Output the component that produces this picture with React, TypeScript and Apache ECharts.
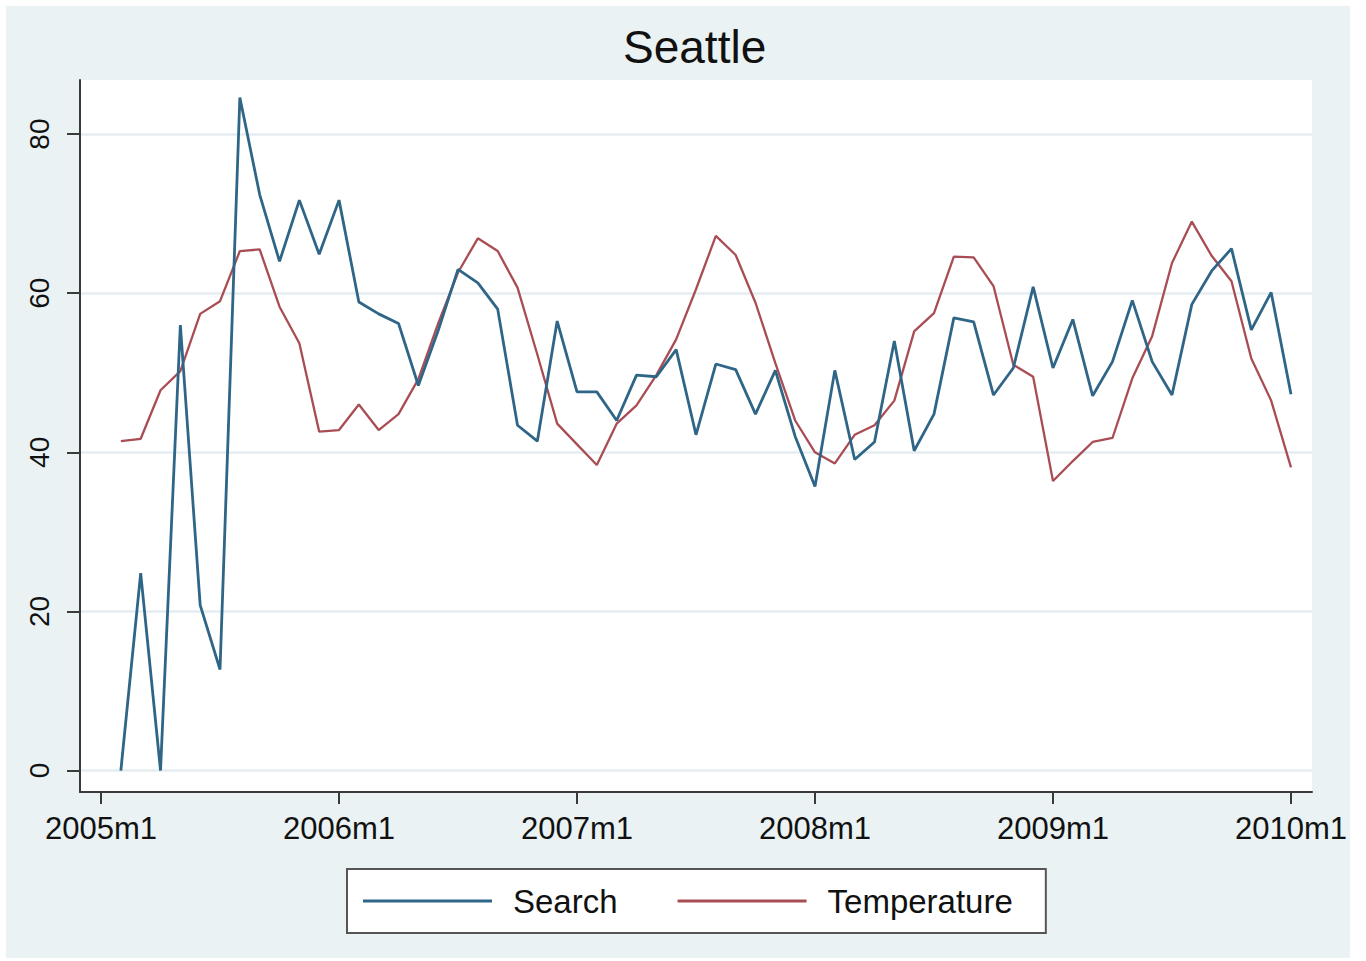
import React, { useEffect, useRef } from "react";
import * as echarts from "echarts";

// Months since 2005m1 for each observation (2005m2 .. 2010m1)
const searchValues = [
  0, 24.8, 0, 56, 20.8, 12.7, 84.6, 72.4, 64, 71.7, 64.9, 71.7,
  58.9, 57.4, 56.2, 48.4, 55.3, 63, 61.3, 58, 43.4, 41.4, 56.5, 47.6,
  47.6, 44, 49.7, 49.5, 52.9, 42.2, 51.1, 50.4, 44.8, 50.3, 42, 35.7,
  50.3, 39.1, 41.3, 54, 40.2, 44.8, 56.9, 56.4, 47.2, 50.6, 60.8, 50.6,
  56.7, 47.1, 51.4, 59.1, 51.4, 47.2, 58.6, 62.8, 65.6, 55.4, 60.1, 47.3,
];
const temperatureValues = [
  41.4, 41.7, 47.8, 50.2, 57.4, 59, 65.3, 65.5, 58.3, 53.7, 42.6, 42.8,
  46, 42.8, 44.8, 49.2, 56.2, 62.6, 66.9, 65.3, 60.7, 52.3, 43.6, 41,
  38.4, 43.6, 45.9, 49.7, 54.2, 60.5, 67.2, 64.8, 58.8, 51.2, 44, 40,
  38.6, 42.2, 43.4, 46.5, 55.2, 57.5, 64.6, 64.5, 60.9, 51, 49.5, 36.4,
  38.9, 41.3, 41.8, 49.3, 54.6, 63.8, 69, 64.7, 61.5, 51.8, 46.5, 38.1,
];
const monthOffsets = searchValues.map((_, i) => i + 1);
const xTickValues = [0, 12, 24, 36, 48, 60];
const startYear = 2005;
const yTickValues = [0, 20, 40, 60, 80];
const seriesNames = ["Search", "Temperature"];
const titleText = "Seattle";

const FONT = "'Liberation Sans', Arial, Helvetica, sans-serif";

export default function App() {
  const ref = useRef<HTMLDivElement>(null);

  useEffect(() => {
    if (!ref.current) return;
    const chart = echarts.init(ref.current, undefined, { renderer: "svg" });
    const searchData = monthOffsets.map((m, i) => [m, searchValues[i]]);
    const tempData = monthOffsets.map((m, i) => [m, temperatureValues[i]]);

    chart.setOption({
      animation: false,
      backgroundColor: "#eaf2f3",
      textStyle: { fontFamily: FONT },
      title: {
        text: titleText,
        left: 617,
        top: 18,
        padding: 0,
        textStyle: { fontFamily: FONT, fontSize: 46, fontWeight: "normal", color: "#111" },
      },
      grid: {
        show: true,
        left: 74,
        top: 74,
        right: 37,
        bottom: 166,
        backgroundColor: "#ffffff",
        borderWidth: 0,
        containLabel: false,
      },
      legend: {
        data: seriesNames,
        left: 341,
        top: 863,
        orient: "horizontal",
        backgroundColor: "#ffffff",
        borderColor: "#555555",
        borderWidth: 2,
        padding: [14, 33, 14, 16],
        itemGap: 60,
        itemWidth: 129,
        itemHeight: 3,
        icon: "rect",
        textStyle: {
          fontFamily: FONT,
          fontSize: 33,
          color: "#111",
          lineHeight: 36,
          padding: [0, 0, 0, 16],
        },
      },
      xAxis: {
        type: "value",
        min: -1.06,
        max: 61.06,
        axisLine: { show: true, onZero: false, lineStyle: { color: "#3a3a3a", width: 2 } },
        axisTick: {
          show: true,
          length: 12,
          customValues: xTickValues,
          lineStyle: { color: "#3a3a3a", width: 2 },
        },
        axisLabel: {
          customValues: xTickValues,
          formatter: (v: number) => `${startYear + Math.round(v / 12)}m1`,
          fontFamily: FONT,
          fontSize: 31,
          color: "#111",
          margin: 21,
        },
        splitLine: { show: false },
      },
      yAxis: {
        type: "value",
        min: -2.7,
        max: 86.8,
        axisLine: { show: true, onZero: false, lineStyle: { color: "#3a3a3a", width: 2 } },
        axisTick: {
          show: true,
          length: 13,
          customValues: yTickValues,
          lineStyle: { color: "#3a3a3a", width: 2 },
        },
        axisLabel: {
          customValues: yTickValues,
          rotate: 90,
          fontFamily: FONT,
          fontSize: 28,
          color: "#111",
          margin: 27,
        },
        splitLine: { show: true, lineStyle: { color: "#e4edf0", width: 2.5 } },
      },
      series: [
        {
          name: seriesNames[0],
          type: "line",
          data: searchData,
          showSymbol: false,
          symbol: "none",
          z: 3,
          lineStyle: { color: "#2f6586", width: 2.8 },
          itemStyle: { color: "#2f6586" },
        },
        {
          name: seriesNames[1],
          type: "line",
          data: tempData,
          showSymbol: false,
          symbol: "none",
          z: 2,
          lineStyle: { color: "#a94d55", width: 2.3 },
          itemStyle: { color: "#a94d55" },
        },
      ],
    });
    return () => chart.dispose();
  }, []);

  return (
    <div
      style={{
        position: "absolute",
        left: 0,
        top: 0,
        width: 1366,
        height: 961,
        background: "#ffffff",
      }}
    >
      <div
        ref={ref}
        style={{ position: "absolute", left: 6, top: 6, width: 1344, height: 952 }}
      />
    </div>
  );
}
